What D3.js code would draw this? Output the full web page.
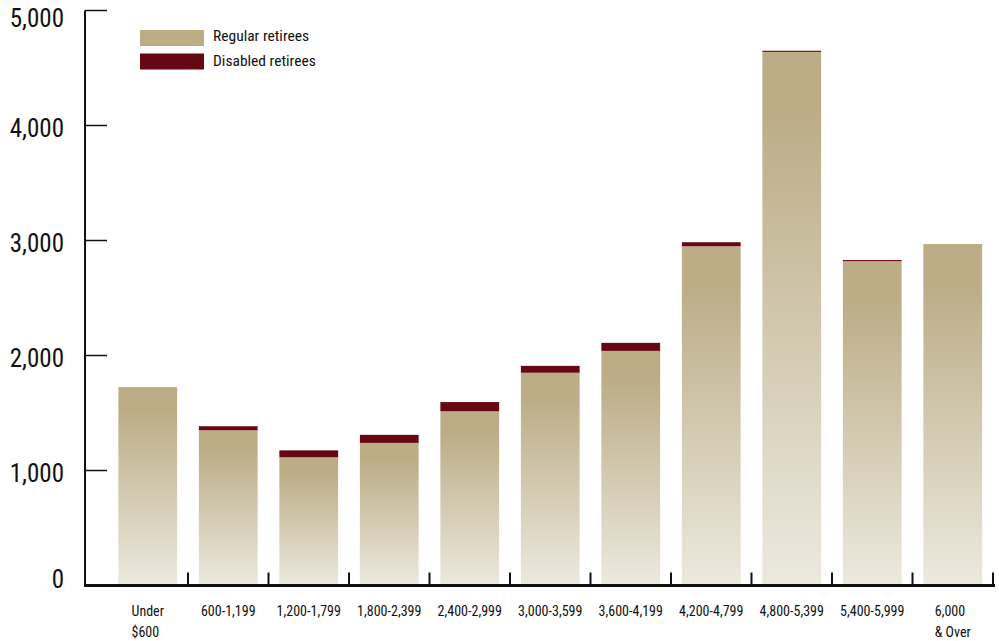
<!DOCTYPE html>
<html>
<head>
<meta charset="utf-8">
<script src="https://cdn.jsdelivr.net/npm/d3@7"></script>
<style>
  html, body { margin: 0; padding: 0; background: #ffffff; }
  svg { display: block; }
  text { font-family: "Liberation Sans Narrow", "Arial Narrow", "Roboto Condensed", sans-serif; fill: #111; }
</style>
</head>
<body>
<svg id="chart" width="999" height="641"></svg>
<script>
// Monthly benefit ranges (dollars)
const categories = [
  ["Under", "$600"], ["600-1,199"], ["1,200-1,799"], ["1,800-2,399"], ["2,400-2,999"],
  ["3,000-3,599"], ["3,600-4,199"], ["4,200-4,799"], ["4,800-5,399"], ["5,400-5,999"],
  ["6,000", "& Over"]
];
// Number of retirees in each range
const regular  = [1725, 1350, 1115, 1240, 1515, 1850, 2040, 2950, 4640, 2820, 2970];
const disabled = [0, 35, 60, 70, 80, 60, 70, 35, 10, 10, 0];
const yTicks = [0, 1000, 2000, 3000, 4000, 5000];
const seriesNames = ["Regular retirees", "Disabled retirees"];

const W = 999, H = 641;
const svg = d3.select("#chart");
const tan = "#bcad87", tanLight = "#ece9df", maroon = "#650813";

const x = d3.scaleBand().domain(d3.range(categories.length)).range([107.5, 993]).paddingInner(0).paddingOuter(0);
const barW = x.bandwidth() * 0.73;
const y = d3.scaleLinear().domain([0, 5000]).range([585.5, 10.5]);

const defs = svg.append("defs");
const grad = defs.append("linearGradient")
  .attr("id", "tanGrad").attr("x1", 0).attr("y1", 0).attr("x2", 0).attr("y2", 1);
grad.append("stop").attr("offset", "0%").attr("stop-color", tan);
grad.append("stop").attr("offset", "12%").attr("stop-color", tan);
grad.append("stop").attr("offset", "100%").attr("stop-color", tanLight);

const rows = categories.map((c, i) => ({ i, c, reg: regular[i], dis: disabled[i] }));

// Regular retirees (bottom segment, shaded)
svg.append("g").selectAll("rect").data(rows).join("rect")
  .attr("x", d => x(d.i) + (x.bandwidth() - barW) / 2)
  .attr("width", barW)
  .attr("y", d => y(d.reg))
  .attr("height", d => y(0) - y(d.reg))
  .attr("fill", "url(#tanGrad)");

// Disabled retirees stacked on top
svg.append("g").selectAll("rect").data(rows.filter(d => d.dis > 0)).join("rect")
  .attr("x", d => x(d.i) + (x.bandwidth() - barW) / 2)
  .attr("width", barW)
  .attr("y", d => y(d.reg + d.dis))
  .attr("height", d => y(d.reg) - y(d.reg + d.dis))
  .attr("fill", maroon);

// Y axis: vertical line with inward ticks
const axis = svg.append("g").attr("stroke", "#111").attr("fill", "none");
axis.append("line").attr("x1", 85).attr("x2", 85).attr("y1", y(5000)).attr("y2", y(0)).attr("stroke-width", 2);
axis.selectAll("line.yt").data(yTicks.filter(v => v > 0)).join("line")
  .attr("class", "yt")
  .attr("x1", 85).attr("x2", 107)
  .attr("y1", d => y(d)).attr("y2", d => y(d))
  .attr("stroke-width", 1.5);

// X axis baseline with ticks at band boundaries
axis.append("line").attr("x1", 84).attr("x2", 995).attr("y1", y(0)).attr("y2", y(0)).attr("stroke-width", 3);
axis.selectAll("line.xt").data(d3.range(1, categories.length + 1)).join("line")
  .attr("class", "xt")
  .attr("x1", d => x.range()[0] + d * x.step()).attr("x2", d => x.range()[0] + d * x.step())
  .attr("y1", y(0) - 13).attr("y2", y(0))
  .attr("stroke-width", 2);

// Y tick labels
const fmt = d3.format(",");
svg.append("g").selectAll("text").data(yTicks).join("text")
  .attr("x", 64)
  .attr("y", d => Math.min(Math.max(y(d) + 3, 18.5), 579))
  .attr("dy", "0.35em")
  .attr("text-anchor", "end")
  .attr("font-size", 25)
  .text(d => fmt(d));

// X category labels
const xl = svg.append("g").selectAll("g").data(rows).join("g");
xl.each(function (d) {
  const g = d3.select(this);
  const cx = x(d.i) + x.bandwidth() / 2;
  const texts = d.c.map((line, k) => g.append("text")
    .attr("y", 611 + k * 21)
    .attr("dy", "0.35em")
    .attr("font-size", 14)
    .text(line));
  if (d.c.length === 1) {
    texts[0].attr("x", cx).attr("text-anchor", "middle");
  } else {
    const w = d3.max(texts, t => t.node().getComputedTextLength());
    texts.forEach(t => t.attr("x", cx - w / 2).attr("text-anchor", "start"));
  }
});

// Legend
const legend = svg.append("g");
[tan, maroon].forEach((col, k) => {
  legend.append("rect").attr("x", 140).attr("y", 30 + k * 23.5).attr("width", 64).attr("height", 16).attr("fill", col);
  legend.append("text").attr("x", 213).attr("y", 35.5 + k * 25.5).attr("dy", "0.35em")
    .attr("font-size", 15.5).text(seriesNames[k]);
});
</script>
</body>
</html>
